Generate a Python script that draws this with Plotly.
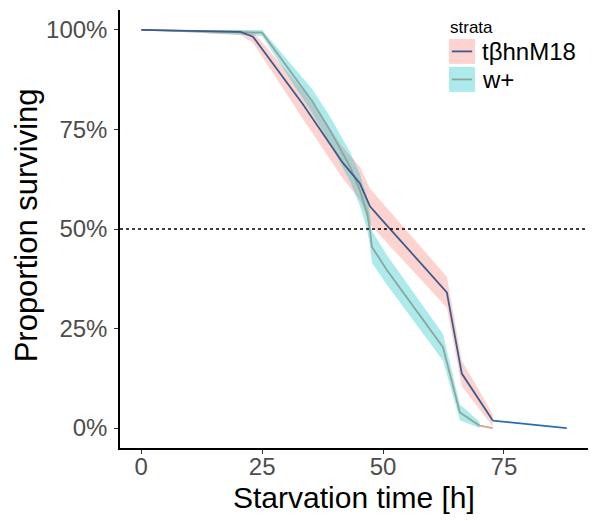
import plotly.graph_objects as go

# ---- data ----
t_mut = [0, 20.5, 23.1, 33.5, 41.7, 45.2, 47.3, 49.4, 63.2, 66.3, 72.7]
s_mut = [1.0, 0.995, 0.983, 0.812, 0.666, 0.615, 0.557, 0.528, 0.341, 0.137, 0.019]
lo_mut = [1.0, 0.987, 0.968, 0.775, 0.627, 0.573, 0.512, 0.483, 0.302, 0.105, 0.004]
hi_mut = [1.0, 1.0, 0.996, 0.848, 0.705, 0.657, 0.602, 0.573, 0.380, 0.170, 0.035]
t_mut_tail = [72.7, 88.0]
s_mut_tail = [0.019, 0.0]

t_wt = [0, 25.0, 35.3, 39.0, 43.2, 45.2, 46.7, 47.3, 47.7, 50.8, 62.4, 65.9, 70.0]
s_wt = [1.0, 0.993, 0.822, 0.749, 0.656, 0.598, 0.540, 0.497, 0.455, 0.397, 0.203, 0.039, 0.006]
lo_wt = [1.0, 0.985, 0.792, 0.715, 0.619, 0.559, 0.499, 0.457, 0.415, 0.360, 0.170, 0.020, 0.000]
hi_wt = [1.0, 1.0, 0.852, 0.783, 0.693, 0.638, 0.580, 0.538, 0.495, 0.435, 0.236, 0.060, 0.015]
t_wt_tail = [70.0, 72.7]
s_wt_tail = [0.006, 0.0]

median_line = 0.5
x_ticks = [0, 25, 50, 75]
y_ticks = [0, 0.25, 0.5, 0.75, 1.0]
y_ticklabels = ["0%", "25%", "50%", "75%", "100%"]
legend_labels = ["tβhnM18", "w+"]

PINK = "rgba(248,118,109,0.32)"
CYAN = "rgba(0,191,196,0.32)"
MUT_LINE = "#3d5b8c"
WT_LINE = "#8ea59c"
MUT_TAIL = "#2a6cb3"
WT_TAIL = "#d6a482"
FONT = "Liberation Sans, Arial, sans-serif"

fig = go.Figure()
fig.add_trace(go.Scatter(x=t_mut + t_mut[::-1], y=hi_mut + lo_mut[::-1], fill="toself",
                         fillcolor=PINK, line=dict(width=0), mode="lines", hoverinfo="skip"))
fig.add_trace(go.Scatter(x=t_wt + t_wt[::-1], y=hi_wt + lo_wt[::-1], fill="toself",
                         fillcolor=CYAN, line=dict(width=0), mode="lines", hoverinfo="skip"))
fig.add_trace(go.Scatter(x=t_mut_tail, y=s_mut_tail, mode="lines", line=dict(color=MUT_TAIL, width=1.8)))
fig.add_trace(go.Scatter(x=t_wt_tail, y=s_wt_tail, mode="lines", line=dict(color=WT_TAIL, width=1.8)))
fig.add_trace(go.Scatter(x=t_wt, y=s_wt, mode="lines", line=dict(color=WT_LINE, width=1.8)))
fig.add_trace(go.Scatter(x=t_mut, y=s_mut, mode="lines", line=dict(color=MUT_LINE, width=1.8)))

fig.add_hline(y=median_line, line=dict(color="black", width=1.6, dash="dot"))

# manual legend (ggplot style)
key_x0, key_x1 = 0.703, 0.7585
rows = [(0.934, 0.877), (0.870, 0.813)]
fills = [PINK, CYAN]
lines = [MUT_LINE, WT_LINE]
for (ya, yb), fc, lc, lab in zip(rows, fills, lines, legend_labels):
    fig.add_shape(type="rect", xref="paper", yref="paper", x0=key_x0, x1=key_x1, y0=yb, y1=ya,
                  fillcolor=fc, line=dict(width=0))
    ym = (ya + yb) / 2
    fig.add_shape(type="line", xref="paper", yref="paper", x0=key_x0 + 0.006, x1=key_x1 - 0.006,
                  y0=ym, y1=ym, line=dict(color=lc, width=1.8))
    fig.add_annotation(xref="paper", yref="paper", x=0.769, y=ym, text=lab, showarrow=False,
                       xanchor="left", yanchor="middle", font=dict(size=24, color="black", family=FONT))
fig.add_annotation(xref="paper", yref="paper", x=0.700, y=0.959, text="strata", showarrow=False,
                   xanchor="left", yanchor="middle", font=dict(size=17, color="black", family=FONT))

# axis titles
fig.add_annotation(xref="paper", yref="paper", x=-0.199, y=0.508, text="Proportion surviving",
                   textangle=-90, showarrow=False, xanchor="center", yanchor="middle",
                   font=dict(size=31, color="black", family=FONT))
fig.add_annotation(xref="paper", yref="paper", x=0.5, y=-0.114, text="Starvation time [h]",
                   showarrow=False, xanchor="center", yanchor="middle",
                   font=dict(size=30, color="black", family=FONT))

# page body has an 8px margin: figure is sized/offset to compensate
fig.update_layout(
    width=590, height=513,
    margin=dict(l=112, r=10, t=2, b=73),
    plot_bgcolor="white", paper_bgcolor="white",
    showlegend=False,
    font=dict(family=FONT),
)
fig.update_xaxes(range=[-4.4, 92.4], tickvals=x_ticks, showgrid=False, zeroline=False,
                 showline=True, linecolor="black", linewidth=1.5, ticks="outside", ticklen=4,
                 tickcolor="#333333", ticklabelstandoff=-8,
                 tickfont=dict(size=24, color="#4d4d4d", family=FONT))
fig.update_yaxes(range=[-0.05, 1.05], tickvals=y_ticks, ticktext=y_ticklabels, showgrid=False,
                 zeroline=False, showline=True, linecolor="black", linewidth=1.5, ticks="outside",
                 ticklen=4, tickcolor="#333333", ticklabelstandoff=2,
                 tickfont=dict(size=24, color="#4d4d4d", family=FONT))

fig.write_html("out.html")
